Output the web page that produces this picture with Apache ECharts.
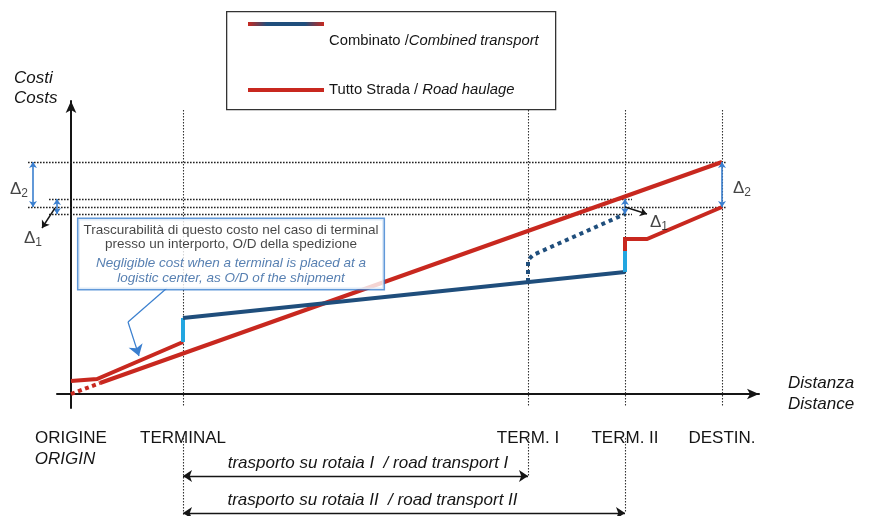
<!DOCTYPE html>
<html><head><meta charset="utf-8">
<script src="https://cdn.jsdelivr.net/npm/echarts@6/dist/echarts.min.js"></script>
<style>html,body{margin:0;padding:0;background:#fff}#c{width:869px;height:516px}</style>
</head><body><div id="c"></div>
<script>
// ---- data (distance units along the route / cost units) ----
const stopNames = ['ORIGINE', 'TERMINAL', 'TERM. I', 'TERM. II', 'DESTIN.'];
const stopNamesEn = ['ORIGIN', '', '', '', ''];
const stopDist = [0, 112, 457, 554, 651];

// Tutto Strada / Road haulage
const roadFixedCost = [[0, 0], [29, 11]];
const roadCost = [[29, 11], [651, 232]];

// Combinato / Combined transport
const combFirstRoadLeg = [[0, 13], [26, 15], [112, 52]];
const combTransfer1 = [[112, 52], [112, 76]];
const combRail = [[112, 76], [554, 122]];
const combTransfer2 = [[554, 122], [554, 143]];
const combLastRoadLeg = [[554, 143], [554, 155], [576, 155], [651, 187]];
const combRailToTermI = [[457, 112], [457, 134], [462, 139], [554, 180]];

// cost reference levels
const levelRoadDest = 232;
const levelRoadTerm2 = 195;
const levelCombDest = 187;
const levelCombTermI = 180;

const deltaNames = ['2', '1', '1', '2'];
const spanTexts = ['trasporto su rotaia I  / road transport I', 'trasporto su rotaia II  / road transport II'];
const noteIt = ['Trascurabilità di questo costo nel caso di terminal', 'presso un interporto, O/D della spedizione'];
const noteEn = ['Negligible cost when a terminal is placed at a', 'logistic center, as O/D of the shipment'];

const COMB = 'Combinato /Combined transport';
const ROAD = 'Tutto Strada / Road haulage';

// ---- styles ----
const RED = '#c8281f', DARK = '#1f4e7c', LIGHT = '#23a6e0', DBLUE = '#3a7fcf', INK = '#151515';
const FONT = "'Liberation Sans', Arial, Helvetica, sans-serif";

const chart = echarts.init(document.getElementById('c'), null, {renderer: 'canvas'});

function lineSeries(name, data, color, type) {
  return {
    name: name, type: 'line', data: data, symbol: 'none', clip: false, z: 5,
    lineStyle: {color: color, width: 4, type: type || 'solid', cap: 'butt', join: 'miter'},
    emphasis: {disabled: true}, silent: true
  };
}

const guides = [
  {coords: [[-43, levelRoadDest], [stopDist[4] + 5, levelRoadDest]]},
  {coords: [[-22, levelRoadTerm2], [stopDist[3] + 7, levelRoadTerm2]]},
  {coords: [[-43, levelCombDest], [stopDist[4] + 5, levelCombDest]]},
  {coords: [[-22, levelCombTermI], [stopDist[3] + 7, levelCombTermI]]}
];
const vguides = [];
for (let i = 1; i < stopDist.length; i++) vguides.push({coords: [[stopDist[i], 284], [stopDist[i], -13]]});
vguides.push({coords: [[stopDist[1], -44], [stopDist[1], -122]]});
vguides.push({coords: [[stopDist[2], -44], [stopDist[2], -82]]});
vguides.push({coords: [[stopDist[3], -44], [stopDist[3], -119]]});

const deltaArrows = [
  {coords: [[-38, levelRoadDest], [-38, levelCombDest]]},
  {coords: [[-14, levelRoadTerm2], [-14, levelCombTermI]]},
  {coords: [[stopDist[3], levelRoadTerm2], [stopDist[3], levelCombTermI]]},
  {coords: [[stopDist[4], levelRoadDest], [stopDist[4], levelCombDest]]}
];
const deltaLabels = [[-52, 205], [-38, 156], [588, 172], [671, 206]];

const spanLabelStyle = {show: true, position: 'middle', color: INK, fontSize: 17, fontStyle: 'italic', fontFamily: FONT, distance: 4};
const spans = [
  {coords: [[stopDist[1], -82], [stopDist[2], -82]], label: Object.assign({}, spanLabelStyle, {formatter: spanTexts[0], padding: [0, 0, 0, 25]})},
  {coords: [[stopDist[1], -119], [stopDist[3], -119]], label: Object.assign({}, spanLabelStyle, {formatter: spanTexts[1], padding: [0, 63, 0, 0]})}
];

const gradient = new echarts.graphic.LinearGradient(0, 0, 1, 0, [
  {offset: 0, color: RED}, {offset: 0.25, color: DARK}, {offset: 0.75, color: DARK}, {offset: 1, color: RED}
]);

const legendText = {
  fontSize: 14.8, color: INK, lineHeight: 17, fontFamily: FONT,
  rich: {n: {fontSize: 14.8, color: INK, fontFamily: FONT}, i: {fontSize: 14.8, color: INK, fontStyle: 'italic', fontFamily: FONT}}
};
function legendFmt(name) {
  if (name === COMB) return '{n|Combinato /}{i|Combined transport}';
  return '{n|Tutto Strada / }{i|Road haulage}';
}
const legendBase = {
  orient: 'vertical', left: 248, icon: 'rect', itemWidth: 76, itemHeight: 4, itemGap: 0, padding: 0,
  selectedMode: false, formatter: legendFmt, textStyle: legendText
};

const option = {
  animation: false,
  backgroundColor: '#fff',
  textStyle: {fontFamily: FONT},
  grid: {left: 57, right: 110, top: 101, bottom: 108, containLabel: false, outerBoundsMode: 'none'},
  xAxis: {
    type: 'value', min: -14, max: 688,
    splitLine: {show: false}, axisTick: {show: false},
    axisLine: {onZero: true, lineStyle: {color: INK, width: 2}, symbol: ['none', 'arrow'], symbolSize: [8, 12]},
    axisLabel: {
      customValues: stopDist, margin: 20, color: INK, fontSize: 17, hideOverlap: false,
      formatter: function (v) {
        const i = stopDist.indexOf(v);
        if (i < 0) return '';
        return stopNamesEn[i] ? '{n|' + stopNames[i] + '}\n{i|' + stopNamesEn[i] + '}' : '{n|' + stopNames[i] + '}';
      },
      rich: {
        n: {fontSize: 17, lineHeight: 21, color: INK, fontFamily: FONT},
        i: {fontSize: 17, lineHeight: 21, color: INK, fontStyle: 'italic', fontFamily: FONT, padding: [0, 12, 0, 0]}
      }
    },
    name: 'Distanza\nDistance', nameLocation: 'end', nameGap: 29, nameMoveOverlap: false,
    nameTextStyle: {color: INK, fontSize: 17, fontStyle: 'italic', lineHeight: 21, align: 'left', verticalAlign: 'middle', padding: [38, 0, 0, 0]}
  },
  yAxis: {
    type: 'value', min: -14, max: 293,
    splitLine: {show: false}, axisTick: {show: false}, axisLabel: {show: false},
    axisLine: {onZero: true, lineStyle: {color: INK, width: 2}, symbol: ['none', 'arrow'], symbolSize: [8, 12]},
    name: '{c|Costi}\n{c|Costs}', nameLocation: 'end', nameGap: -7, nameMoveOverlap: false,
    nameTextStyle: {
      color: INK, fontSize: 17, fontStyle: 'italic', lineHeight: 20, align: 'right', verticalAlign: 'bottom', padding: [0, 13, 0, 0],
      rich: {c: {color: INK, fontSize: 17, fontStyle: 'italic', lineHeight: 20, width: 44, align: 'left', fontFamily: FONT}}
    }
  },
  legend: [
    Object.assign({}, legendBase, {top: -1.5, data: [{name: COMB, itemStyle: {color: gradient, borderWidth: 0}, textStyle: {padding: [34, 0, 0, 0]}}]}),
    Object.assign({}, legendBase, {top: 81.5, data: [{name: ROAD, itemStyle: {color: RED, borderWidth: 0}}]})
  ],
  graphic: [{
    type: 'rect', left: 226, top: 11, z: -1, silent: true,
    shape: {width: 329, height: 98}, style: {fill: '#fff', stroke: '#333', lineWidth: 1.3}
  }],
  series: [
    {
      name: 'guides', type: 'lines', coordinateSystem: 'cartesian2d', clip: false, silent: true, z: 1,
      lineStyle: {color: '#222', width: 1.4, type: [1.6, 1.4], opacity: 1, curveness: 0}, data: guides
    },
    {
      name: 'vguides', type: 'lines', coordinateSystem: 'cartesian2d', clip: false, silent: true, z: 1,
      lineStyle: {color: '#333', width: 1.1, type: [1.5, 1.5], opacity: 1, curveness: 0}, data: vguides
    },
    lineSeries(ROAD, roadCost, RED),
    lineSeries(ROAD, roadFixedCost, RED, [4, 3.5]),
    lineSeries(COMB, combFirstRoadLeg, RED),
    lineSeries(COMB, combTransfer1, LIGHT),
    lineSeries(COMB, combRail, DARK),
    lineSeries(COMB, combTransfer2, LIGHT),
    lineSeries(COMB, combLastRoadLeg, RED),
    lineSeries(COMB, combRailToTermI, DARK, [4, 4]),
    {
      name: 'delta', type: 'lines', coordinateSystem: 'cartesian2d', clip: false, silent: true, z: 6,
      symbol: ['arrow', 'arrow'], symbolSize: 6,
      lineStyle: {color: DBLUE, width: 1.6, opacity: 1, curveness: 0}, data: deltaArrows
    },
    {
      name: 'pointers', type: 'lines', coordinateSystem: 'cartesian2d', clip: false, silent: true, z: 6,
      symbol: ['none', 'arrow'], symbolSize: 7,
      lineStyle: {color: INK, width: 1.4, opacity: 1, curveness: 0},
      data: [{coords: [[-16, 186], [-29, 166]]}, {coords: [[stopDist[3], 187], [576, 180]]}]
    },
    {
      name: 'callout', type: 'lines', coordinateSystem: 'cartesian2d', clip: false, silent: true, z: 6,
      symbol: ['none', 'none'], symbolSize: 11,
      lineStyle: {color: DBLUE, width: 1.2, opacity: 1, curveness: 0},
      data: [{coords: [[96, 106], [57, 72]]}, {coords: [[57, 72], [68, 38]], symbol: ['none', 'arrow']}]
    },
    {
      name: 'spans', type: 'lines', coordinateSystem: 'cartesian2d', clip: false, silent: true, z: 6,
      symbol: ['arrow', 'arrow'], symbolSize: 9,
      lineStyle: {color: INK, width: 1.4, opacity: 1, curveness: 0}, data: spans
    },
    {
      name: 'deltaLabels', type: 'scatter', clip: false, silent: true, symbolSize: 0, z: 7,
      data: deltaLabels.map(function (p, i) { return {value: p, name: deltaNames[i]}; }),
      label: {
        show: true, position: 'inside', color: INK,
        formatter: function (p) { return '{d|Δ}{s|' + p.name + '}'; },
        rich: {d: {fontSize: 17, color: INK, fontFamily: FONT}, s: {fontSize: 12, color: INK, fontFamily: FONT, padding: [10, 0, 0, 0]}}
      }
    },
    {
      name: 'note', type: 'scatter', clip: false, silent: true, symbolSize: 0, z: 8,
      data: [[160, 140]],
      label: {
        show: true, position: 'inside', align: 'center',
        backgroundColor: '#fff', borderColor: DBLUE, borderWidth: 1.5, padding: [4, 5, 3, 5],
        formatter: '{a|' + noteIt[0] + '}\n{a|' + noteIt[1] + '}\n{g| }\n{b|' + noteEn[0] + '}\n{b|' + noteEn[1] + '}',
        rich: {
          a: {fontSize: 13.5, lineHeight: 14.5, color: INK, fontFamily: FONT, align: 'center'},
          g: {fontSize: 3, lineHeight: 3},
          b: {fontSize: 13.5, lineHeight: 15.5, color: '#2c5f9e', fontStyle: 'italic', fontFamily: FONT, align: 'center'}
        }
      }
    }
  ]
};
chart.setOption(option);
</script>
</body></html>
